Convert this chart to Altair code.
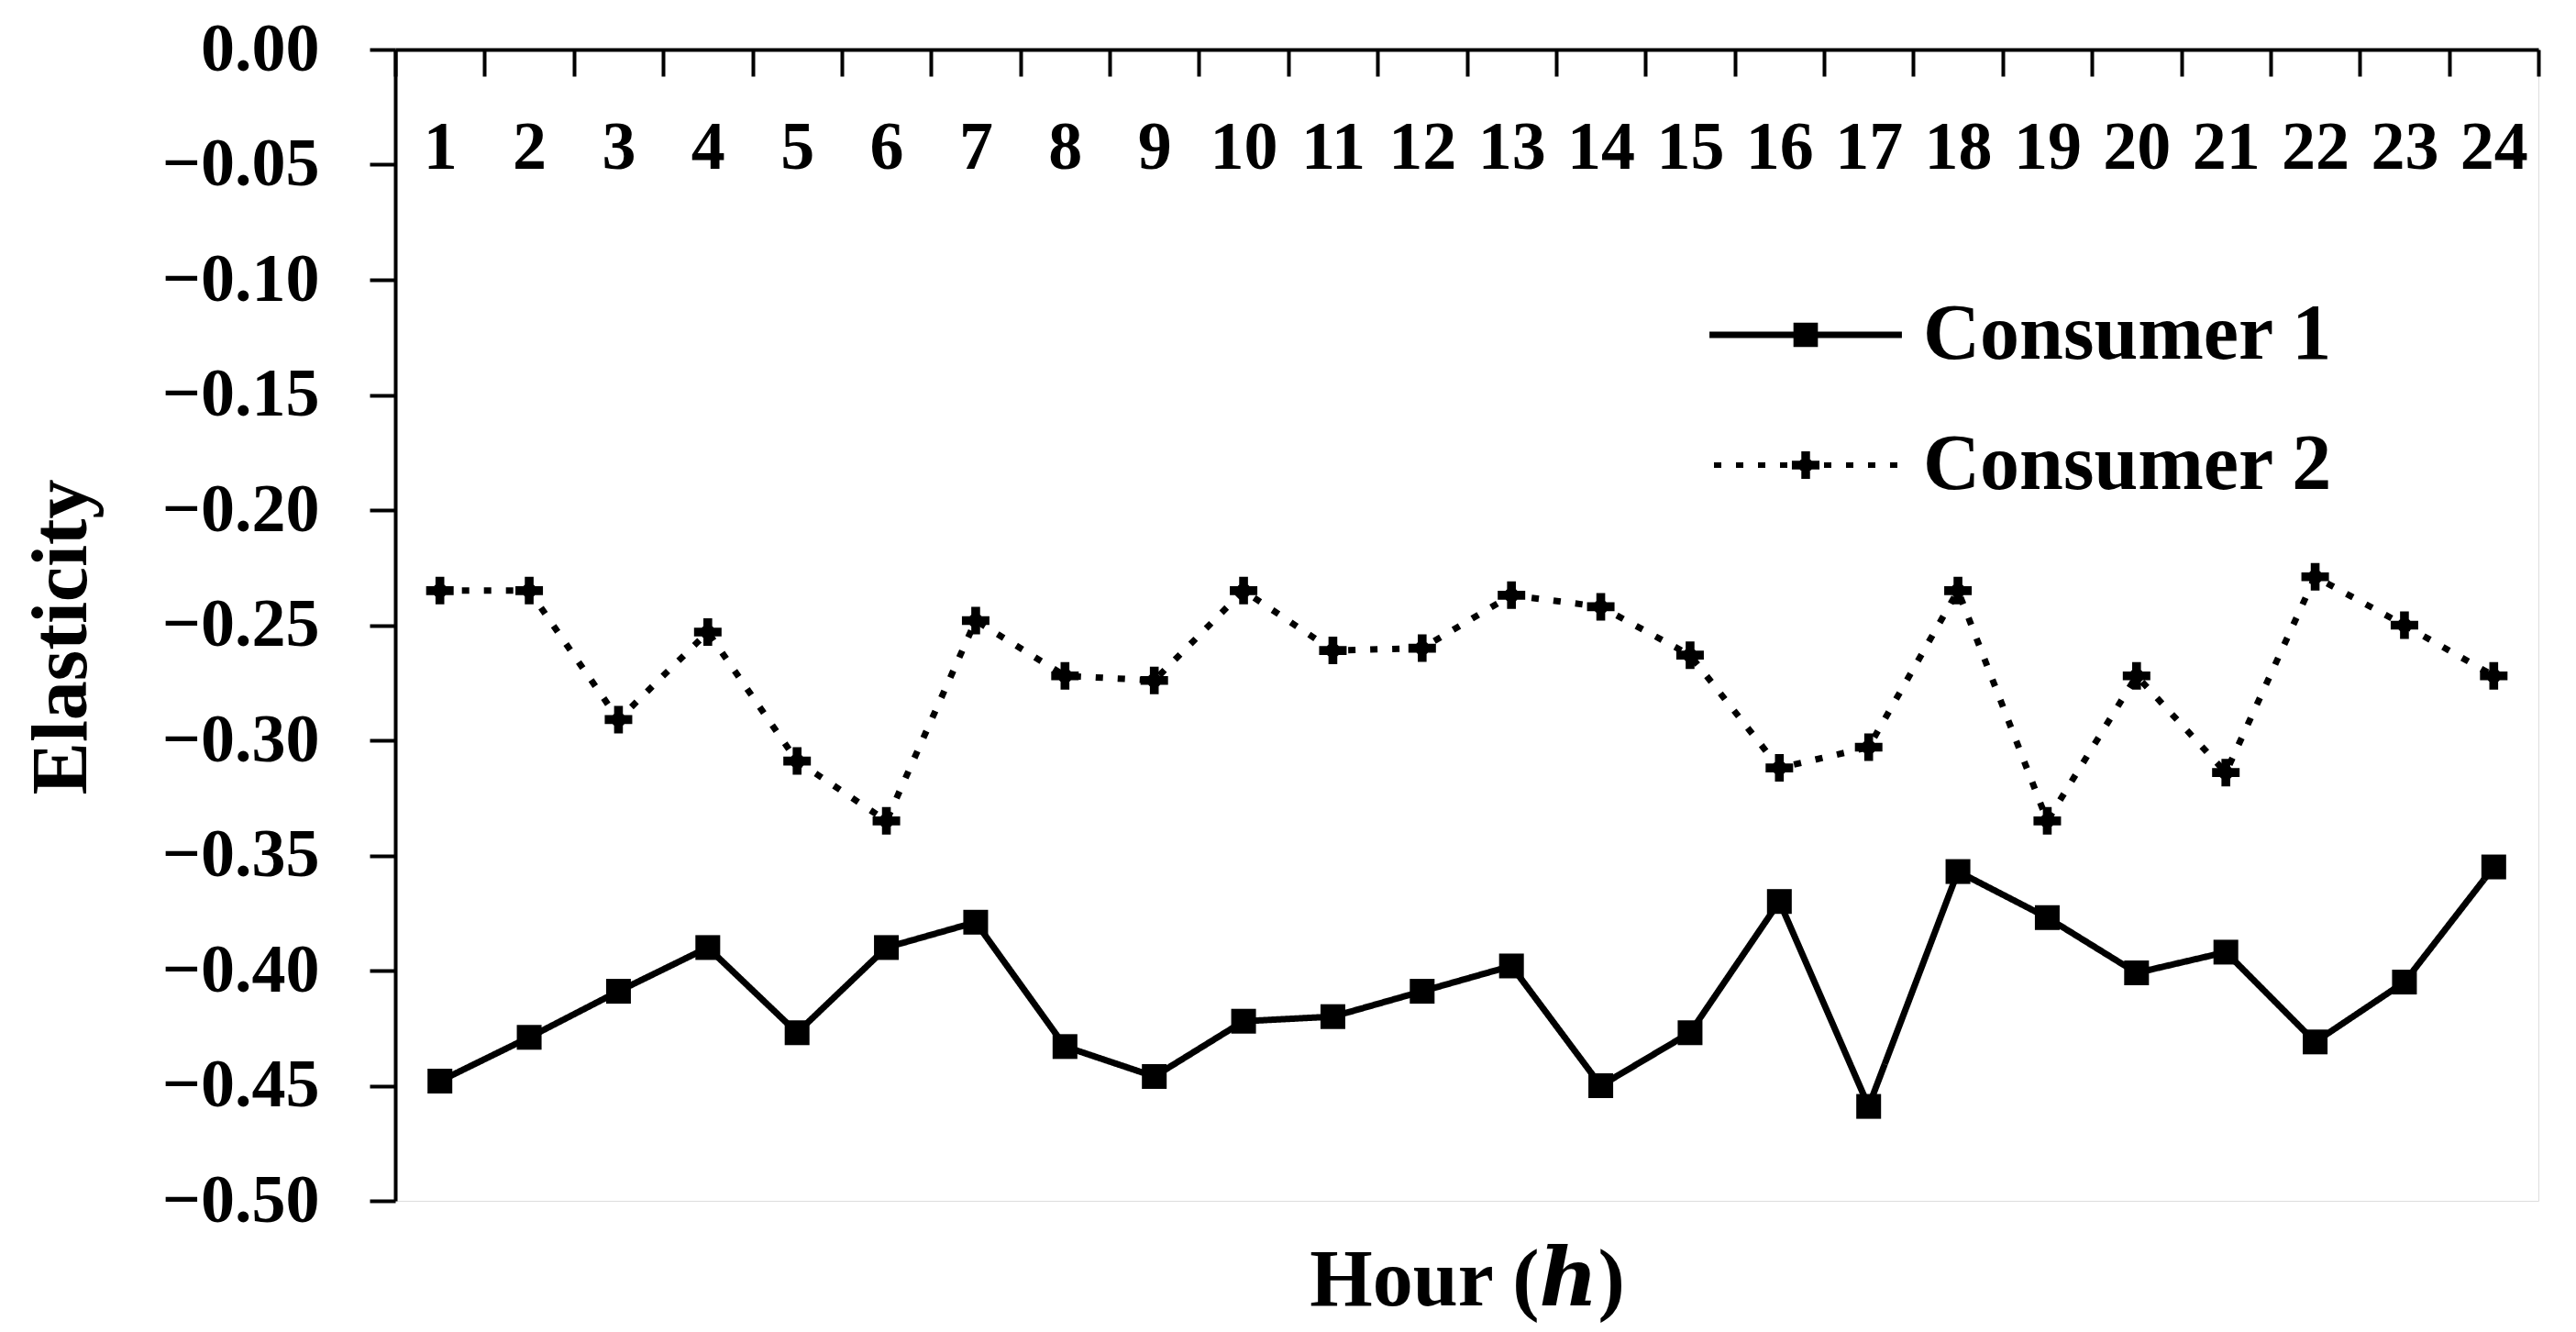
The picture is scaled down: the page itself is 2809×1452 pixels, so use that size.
import altair as alt
import pandas as pd

# ---- data ----
hours = list(range(1, 25))
series_names = ["Consumer 1", "Consumer 2"]
consumer1 = [-0.448, -0.429, -0.409, -0.390, -0.427, -0.390, -0.379, -0.433, -0.446, -0.422,
             -0.420, -0.409, -0.398, -0.450, -0.427, -0.370, -0.459, -0.357, -0.377, -0.401,
             -0.392, -0.431, -0.405, -0.355]
consumer2 = [-0.235, -0.235, -0.291, -0.253, -0.309, -0.335, -0.248, -0.272, -0.274, -0.235,
             -0.261, -0.260, -0.237, -0.242, -0.263, -0.312, -0.303, -0.235, -0.335, -0.272,
             -0.314, -0.229, -0.250, -0.272]
y_ticks = [0.0, -0.05, -0.10, -0.15, -0.20, -0.25, -0.30, -0.35, -0.40, -0.45, -0.50]

rows = []
for h, a, b in zip(hours, consumer1, consumer2):
    rows.append({"hour": h, "value": a, "series": series_names[0]})
    rows.append({"hour": h, "value": b, "series": series_names[1]})
df = pd.DataFrame(rows)

FONT = "Liberation Serif"
TITLE_FONT = "Liberation Serif, DejaVu Serif"
W, H = 2337, 1255

# marker shape for consumer 2 (plus with a diamond core), normalised to [-1, 1]
plus_marker = ("M-1,-0.32H-0.32V-1H0.32V-0.32H1V0.32H0.32V1H-0.32V0.32H-1Z "
               "M0,-0.75L0.75,0L0,0.75L-0.75,0Z")

# legend symbols: line + marker drawn as filled paths
leg1 = "M-2.44,-0.08H2.44V0.08H-2.44Z M-0.31,-0.31H0.31V0.31H-0.31Z"
dots = " ".join(f"M{-2.325 + k * 0.558:.3f},-0.07h0.186v0.14h-0.186Z" for k in range(9))
leg2 = dots + (" M-0.35,-0.11H-0.11V-0.35H0.11V-0.11H0.35V0.11H0.11V0.35H-0.11V0.11H-0.35Z"
               " M0,-0.26L0.26,0L0,0.26L-0.26,0Z")

x_enc = alt.X(
    "hour:O",
    scale=alt.Scale(type="band", paddingInner=0, paddingOuter=0),
    axis=alt.Axis(
        orient="bottom", offset=-H, title="Hour (ℎ)", labelAngle=0,
        tickBand="extent", tickSize=29, tickWidth=4, tickColor="black",
        domainColor="black", domainWidth=4, labelPadding=42,
        labelFont=FONT, labelFontSize=74, labelFontWeight="bold", labelColor="black",
        titleFont=TITLE_FONT, titleFontSize=88, titleFontWeight="bold", titleColor="black",
        titleY=1368, titleBaseline="alphabetic", grid=False,
    ),
)
y_enc = alt.Y(
    "value:Q",
    scale=alt.Scale(domain=[-0.5, 0], nice=False, zero=False),
    axis=alt.Axis(
        values=y_ticks, format=".2f", title="Elasticity",
        tickSize=28, tickWidth=4, tickColor="black", domainColor="black", domainWidth=4,
        labelPadding=55, labelFont=FONT, labelFontSize=74, labelFontWeight="bold",
        labelColor="black",
        titleFont=FONT, titleFontSize=86, titleFontWeight="bold", titleColor="black",
        titleX=-338, titleY=640, titleBaseline="alphabetic", titleAlign="center", grid=False,
    ),
)

base = alt.Chart(df)

# legend carrier: tiny marks hidden beneath the visible markers
legend_layer = base.mark_point(filled=True, color="black", opacity=1).encode(
    x=x_enc, y=y_enc,
    shape=alt.Shape(
        "series:N",
        scale=alt.Scale(domain=series_names, range=[leg1, leg2]),
        legend=alt.Legend(
            title=None, orient="none", legendX=1495, legendY=268, padding=0,
            symbolSize=7396, symbolStrokeWidth=0, symbolFillColor="black", symbolOpacity=1,
            labelOffset=85, rowPadding=56, labelLimit=0,
            labelFont=FONT, labelFontSize=86, labelFontWeight="bold", labelColor="black",
        ),
    ),
)

lines = base.mark_line(color="black", strokeWidth=7).encode(
    x=x_enc, y=y_enc,
    strokeDash=alt.StrokeDash("series:N", scale=alt.Scale(domain=series_names, range=[[1, 0], [8, 16]]),
                              legend=None),
    detail="series:N",
)

pts1 = base.transform_filter(alt.datum.series == series_names[0]).mark_point(
    shape="square", filled=True, color="black", opacity=1, size=730
).encode(x=x_enc, y=y_enc)

pts2 = base.transform_filter(alt.datum.series == series_names[1]).mark_point(
    shape=plus_marker, filled=True, color="black", opacity=1, size=900
).encode(x=x_enc, y=y_enc)

chart = alt.layer(legend_layer, lines, pts1, pts2).properties(
    width=W, height=H,
    autosize=alt.AutoSizeParams(type="none"),
    padding={"left": 423, "top": 46, "right": 30, "bottom": 134},
).configure_view(stroke=None).configure(background="white")

chart.save("out.html", embed_options={"renderer": "svg", "actions": False})
